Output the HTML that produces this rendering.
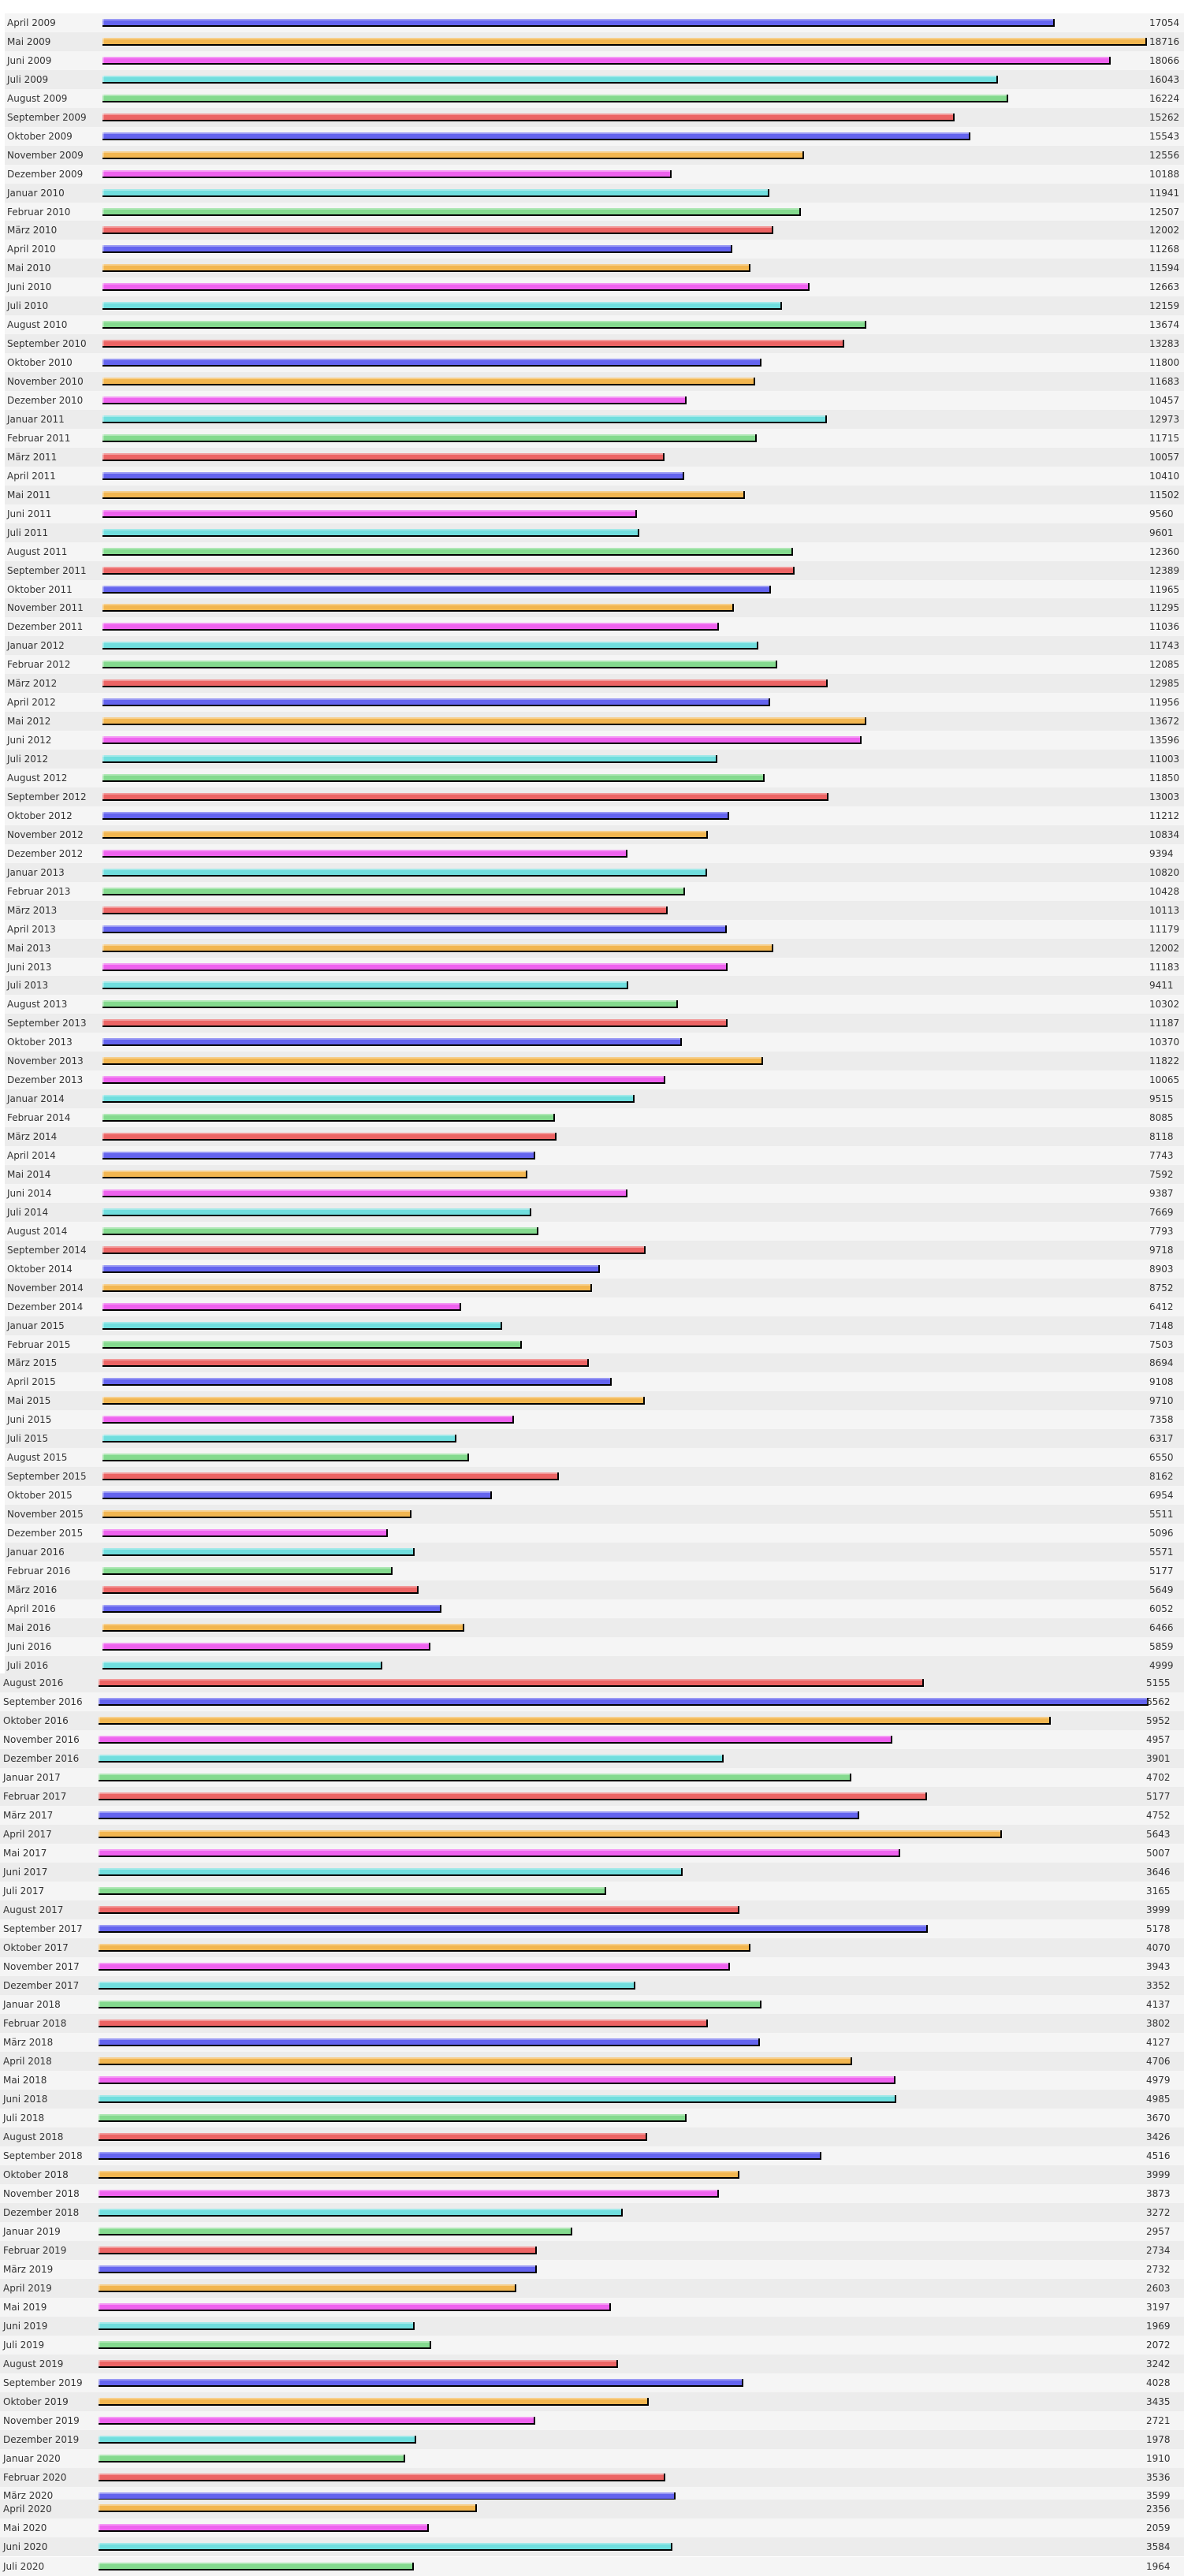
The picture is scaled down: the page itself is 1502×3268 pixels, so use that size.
<!DOCTYPE html>
<html><head><meta charset="utf-8"><style>
body{margin:0;width:1502px;height:3263px;background:#fff;position:relative;overflow:hidden;font-family:"DejaVu Sans","Liberation Sans",sans-serif;font-size:12px;color:#333}
.s{position:absolute;left:0;top:0;width:1502px}
.r{position:absolute;height:24px;line-height:24px;width:1496px;left:6px}
.s2 .r{left:0;width:1502px}
.s1 .r{top:calc(17px + var(--i)*23.95px)}
.s2 .r{top:calc(2123px + var(--i)*24px)}
.s1 .r:nth-child(odd){background:#f5f5f5}.s1 .r:nth-child(even){background:#ececec}
.s2 .r:nth-child(odd){background:#ececec}.s2 .r:nth-child(even){background:#f5f5f5}
.l{position:absolute;left:3px;top:0}
.s2 .l{left:4px}
.v{position:absolute;left:1452px;top:0}
.s2 .v{left:1454px}
.b{position:absolute;left:124px;top:7px;height:8px;width:calc(var(--v)*0.0707px);border-bottom:2px solid #000;border-right:2px solid #000;box-shadow:inset 0 2px 0 rgba(255,255,255,.35),inset 2px 0 0 rgba(255,255,255,.3)}
.s2 .b{left:125px;width:calc(var(--v)*0.2027px)}
.s1 .r:nth-child(6n+1) .b{background:#6464ee}.s1 .r:nth-child(6n+2) .b{background:#f2b650}.s1 .r:nth-child(6n+3) .b{background:#ee62ee}.s1 .r:nth-child(6n+4) .b{background:#70dede}.s1 .r:nth-child(6n+5) .b{background:#84da8e}.s1 .r:nth-child(6n) .b{background:#ec6464}
.s2 .r:nth-child(6n+1) .b{background:#ec6464}.s2 .r:nth-child(6n+2) .b{background:#6464ee}.s2 .r:nth-child(6n+3) .b{background:#f2b650}.s2 .r:nth-child(6n+4) .b{background:#ee62ee}.s2 .r:nth-child(6n+5) .b{background:#70dede}.s2 .r:nth-child(6n) .b{background:#84da8e}
</style></head><body>
<div class="s s1">
<div class="r" style="--i:0"><span class="l">April 2009</span><i class="b" style="--v:17054"></i><span class="v">17054</span></div>
<div class="r" style="--i:1"><span class="l">Mai 2009</span><i class="b" style="--v:18716"></i><span class="v">18716</span></div>
<div class="r" style="--i:2"><span class="l">Juni 2009</span><i class="b" style="--v:18066"></i><span class="v">18066</span></div>
<div class="r" style="--i:3"><span class="l">Juli 2009</span><i class="b" style="--v:16043"></i><span class="v">16043</span></div>
<div class="r" style="--i:4"><span class="l">August 2009</span><i class="b" style="--v:16224"></i><span class="v">16224</span></div>
<div class="r" style="--i:5"><span class="l">September 2009</span><i class="b" style="--v:15262"></i><span class="v">15262</span></div>
<div class="r" style="--i:6"><span class="l">Oktober 2009</span><i class="b" style="--v:15543"></i><span class="v">15543</span></div>
<div class="r" style="--i:7"><span class="l">November 2009</span><i class="b" style="--v:12556"></i><span class="v">12556</span></div>
<div class="r" style="--i:8"><span class="l">Dezember 2009</span><i class="b" style="--v:10188"></i><span class="v">10188</span></div>
<div class="r" style="--i:9"><span class="l">Januar 2010</span><i class="b" style="--v:11941"></i><span class="v">11941</span></div>
<div class="r" style="--i:10"><span class="l">Februar 2010</span><i class="b" style="--v:12507"></i><span class="v">12507</span></div>
<div class="r" style="--i:11"><span class="l">März 2010</span><i class="b" style="--v:12002"></i><span class="v">12002</span></div>
<div class="r" style="--i:12"><span class="l">April 2010</span><i class="b" style="--v:11268"></i><span class="v">11268</span></div>
<div class="r" style="--i:13"><span class="l">Mai 2010</span><i class="b" style="--v:11594"></i><span class="v">11594</span></div>
<div class="r" style="--i:14"><span class="l">Juni 2010</span><i class="b" style="--v:12663"></i><span class="v">12663</span></div>
<div class="r" style="--i:15"><span class="l">Juli 2010</span><i class="b" style="--v:12159"></i><span class="v">12159</span></div>
<div class="r" style="--i:16"><span class="l">August 2010</span><i class="b" style="--v:13674"></i><span class="v">13674</span></div>
<div class="r" style="--i:17"><span class="l">September 2010</span><i class="b" style="--v:13283"></i><span class="v">13283</span></div>
<div class="r" style="--i:18"><span class="l">Oktober 2010</span><i class="b" style="--v:11800"></i><span class="v">11800</span></div>
<div class="r" style="--i:19"><span class="l">November 2010</span><i class="b" style="--v:11683"></i><span class="v">11683</span></div>
<div class="r" style="--i:20"><span class="l">Dezember 2010</span><i class="b" style="--v:10457"></i><span class="v">10457</span></div>
<div class="r" style="--i:21"><span class="l">Januar 2011</span><i class="b" style="--v:12973"></i><span class="v">12973</span></div>
<div class="r" style="--i:22"><span class="l">Februar 2011</span><i class="b" style="--v:11715"></i><span class="v">11715</span></div>
<div class="r" style="--i:23"><span class="l">März 2011</span><i class="b" style="--v:10057"></i><span class="v">10057</span></div>
<div class="r" style="--i:24"><span class="l">April 2011</span><i class="b" style="--v:10410"></i><span class="v">10410</span></div>
<div class="r" style="--i:25"><span class="l">Mai 2011</span><i class="b" style="--v:11502"></i><span class="v">11502</span></div>
<div class="r" style="--i:26"><span class="l">Juni 2011</span><i class="b" style="--v:9560"></i><span class="v">9560</span></div>
<div class="r" style="--i:27"><span class="l">Juli 2011</span><i class="b" style="--v:9601"></i><span class="v">9601</span></div>
<div class="r" style="--i:28"><span class="l">August 2011</span><i class="b" style="--v:12360"></i><span class="v">12360</span></div>
<div class="r" style="--i:29"><span class="l">September 2011</span><i class="b" style="--v:12389"></i><span class="v">12389</span></div>
<div class="r" style="--i:30"><span class="l">Oktober 2011</span><i class="b" style="--v:11965"></i><span class="v">11965</span></div>
<div class="r" style="--i:31"><span class="l">November 2011</span><i class="b" style="--v:11295"></i><span class="v">11295</span></div>
<div class="r" style="--i:32"><span class="l">Dezember 2011</span><i class="b" style="--v:11036"></i><span class="v">11036</span></div>
<div class="r" style="--i:33"><span class="l">Januar 2012</span><i class="b" style="--v:11743"></i><span class="v">11743</span></div>
<div class="r" style="--i:34"><span class="l">Februar 2012</span><i class="b" style="--v:12085"></i><span class="v">12085</span></div>
<div class="r" style="--i:35"><span class="l">März 2012</span><i class="b" style="--v:12985"></i><span class="v">12985</span></div>
<div class="r" style="--i:36"><span class="l">April 2012</span><i class="b" style="--v:11956"></i><span class="v">11956</span></div>
<div class="r" style="--i:37"><span class="l">Mai 2012</span><i class="b" style="--v:13672"></i><span class="v">13672</span></div>
<div class="r" style="--i:38"><span class="l">Juni 2012</span><i class="b" style="--v:13596"></i><span class="v">13596</span></div>
<div class="r" style="--i:39"><span class="l">Juli 2012</span><i class="b" style="--v:11003"></i><span class="v">11003</span></div>
<div class="r" style="--i:40"><span class="l">August 2012</span><i class="b" style="--v:11850"></i><span class="v">11850</span></div>
<div class="r" style="--i:41"><span class="l">September 2012</span><i class="b" style="--v:13003"></i><span class="v">13003</span></div>
<div class="r" style="--i:42"><span class="l">Oktober 2012</span><i class="b" style="--v:11212"></i><span class="v">11212</span></div>
<div class="r" style="--i:43"><span class="l">November 2012</span><i class="b" style="--v:10834"></i><span class="v">10834</span></div>
<div class="r" style="--i:44"><span class="l">Dezember 2012</span><i class="b" style="--v:9394"></i><span class="v">9394</span></div>
<div class="r" style="--i:45"><span class="l">Januar 2013</span><i class="b" style="--v:10820"></i><span class="v">10820</span></div>
<div class="r" style="--i:46"><span class="l">Februar 2013</span><i class="b" style="--v:10428"></i><span class="v">10428</span></div>
<div class="r" style="--i:47"><span class="l">März 2013</span><i class="b" style="--v:10113"></i><span class="v">10113</span></div>
<div class="r" style="--i:48"><span class="l">April 2013</span><i class="b" style="--v:11179"></i><span class="v">11179</span></div>
<div class="r" style="--i:49"><span class="l">Mai 2013</span><i class="b" style="--v:12002"></i><span class="v">12002</span></div>
<div class="r" style="--i:50"><span class="l">Juni 2013</span><i class="b" style="--v:11183"></i><span class="v">11183</span></div>
<div class="r" style="--i:51"><span class="l">Juli 2013</span><i class="b" style="--v:9411"></i><span class="v">9411</span></div>
<div class="r" style="--i:52"><span class="l">August 2013</span><i class="b" style="--v:10302"></i><span class="v">10302</span></div>
<div class="r" style="--i:53"><span class="l">September 2013</span><i class="b" style="--v:11187"></i><span class="v">11187</span></div>
<div class="r" style="--i:54"><span class="l">Oktober 2013</span><i class="b" style="--v:10370"></i><span class="v">10370</span></div>
<div class="r" style="--i:55"><span class="l">November 2013</span><i class="b" style="--v:11822"></i><span class="v">11822</span></div>
<div class="r" style="--i:56"><span class="l">Dezember 2013</span><i class="b" style="--v:10065"></i><span class="v">10065</span></div>
<div class="r" style="--i:57"><span class="l">Januar 2014</span><i class="b" style="--v:9515"></i><span class="v">9515</span></div>
<div class="r" style="--i:58"><span class="l">Februar 2014</span><i class="b" style="--v:8085"></i><span class="v">8085</span></div>
<div class="r" style="--i:59"><span class="l">März 2014</span><i class="b" style="--v:8118"></i><span class="v">8118</span></div>
<div class="r" style="--i:60"><span class="l">April 2014</span><i class="b" style="--v:7743"></i><span class="v">7743</span></div>
<div class="r" style="--i:61"><span class="l">Mai 2014</span><i class="b" style="--v:7592"></i><span class="v">7592</span></div>
<div class="r" style="--i:62"><span class="l">Juni 2014</span><i class="b" style="--v:9387"></i><span class="v">9387</span></div>
<div class="r" style="--i:63"><span class="l">Juli 2014</span><i class="b" style="--v:7669"></i><span class="v">7669</span></div>
<div class="r" style="--i:64"><span class="l">August 2014</span><i class="b" style="--v:7793"></i><span class="v">7793</span></div>
<div class="r" style="--i:65"><span class="l">September 2014</span><i class="b" style="--v:9718"></i><span class="v">9718</span></div>
<div class="r" style="--i:66"><span class="l">Oktober 2014</span><i class="b" style="--v:8903"></i><span class="v">8903</span></div>
<div class="r" style="--i:67"><span class="l">November 2014</span><i class="b" style="--v:8752"></i><span class="v">8752</span></div>
<div class="r" style="--i:68"><span class="l">Dezember 2014</span><i class="b" style="--v:6412"></i><span class="v">6412</span></div>
<div class="r" style="--i:69"><span class="l">Januar 2015</span><i class="b" style="--v:7148"></i><span class="v">7148</span></div>
<div class="r" style="--i:70"><span class="l">Februar 2015</span><i class="b" style="--v:7503"></i><span class="v">7503</span></div>
<div class="r" style="--i:71"><span class="l">März 2015</span><i class="b" style="--v:8694"></i><span class="v">8694</span></div>
<div class="r" style="--i:72"><span class="l">April 2015</span><i class="b" style="--v:9108"></i><span class="v">9108</span></div>
<div class="r" style="--i:73"><span class="l">Mai 2015</span><i class="b" style="--v:9710"></i><span class="v">9710</span></div>
<div class="r" style="--i:74"><span class="l">Juni 2015</span><i class="b" style="--v:7358"></i><span class="v">7358</span></div>
<div class="r" style="--i:75"><span class="l">Juli 2015</span><i class="b" style="--v:6317"></i><span class="v">6317</span></div>
<div class="r" style="--i:76"><span class="l">August 2015</span><i class="b" style="--v:6550"></i><span class="v">6550</span></div>
<div class="r" style="--i:77"><span class="l">September 2015</span><i class="b" style="--v:8162"></i><span class="v">8162</span></div>
<div class="r" style="--i:78"><span class="l">Oktober 2015</span><i class="b" style="--v:6954"></i><span class="v">6954</span></div>
<div class="r" style="--i:79"><span class="l">November 2015</span><i class="b" style="--v:5511"></i><span class="v">5511</span></div>
<div class="r" style="--i:80"><span class="l">Dezember 2015</span><i class="b" style="--v:5096"></i><span class="v">5096</span></div>
<div class="r" style="--i:81"><span class="l">Januar 2016</span><i class="b" style="--v:5571"></i><span class="v">5571</span></div>
<div class="r" style="--i:82"><span class="l">Februar 2016</span><i class="b" style="--v:5177"></i><span class="v">5177</span></div>
<div class="r" style="--i:83"><span class="l">März 2016</span><i class="b" style="--v:5649"></i><span class="v">5649</span></div>
<div class="r" style="--i:84"><span class="l">April 2016</span><i class="b" style="--v:6052"></i><span class="v">6052</span></div>
<div class="r" style="--i:85"><span class="l">Mai 2016</span><i class="b" style="--v:6466"></i><span class="v">6466</span></div>
<div class="r" style="--i:86"><span class="l">Juni 2016</span><i class="b" style="--v:5859"></i><span class="v">5859</span></div>
<div class="r" style="--i:87"><span class="l">Juli 2016</span><i class="b" style="--v:4999"></i><span class="v">4999</span></div>
</div>
<div class="s s2">
<div class="r" style="--i:0"><span class="l">August 2016</span><i class="b" style="--v:5155"></i><span class="v">5155</span></div>
<div class="r" style="--i:1"><span class="l">September 2016</span><i class="b" style="--v:6562"></i><span class="v">6562</span></div>
<div class="r" style="--i:2"><span class="l">Oktober 2016</span><i class="b" style="--v:5952"></i><span class="v">5952</span></div>
<div class="r" style="--i:3"><span class="l">November 2016</span><i class="b" style="--v:4957"></i><span class="v">4957</span></div>
<div class="r" style="--i:4"><span class="l">Dezember 2016</span><i class="b" style="--v:3901"></i><span class="v">3901</span></div>
<div class="r" style="--i:5"><span class="l">Januar 2017</span><i class="b" style="--v:4702"></i><span class="v">4702</span></div>
<div class="r" style="--i:6"><span class="l">Februar 2017</span><i class="b" style="--v:5177"></i><span class="v">5177</span></div>
<div class="r" style="--i:7"><span class="l">März 2017</span><i class="b" style="--v:4752"></i><span class="v">4752</span></div>
<div class="r" style="--i:8"><span class="l">April 2017</span><i class="b" style="--v:5643"></i><span class="v">5643</span></div>
<div class="r" style="--i:9"><span class="l">Mai 2017</span><i class="b" style="--v:5007"></i><span class="v">5007</span></div>
<div class="r" style="--i:10"><span class="l">Juni 2017</span><i class="b" style="--v:3646"></i><span class="v">3646</span></div>
<div class="r" style="--i:11"><span class="l">Juli 2017</span><i class="b" style="--v:3165"></i><span class="v">3165</span></div>
<div class="r" style="--i:12"><span class="l">August 2017</span><i class="b" style="--v:3999"></i><span class="v">3999</span></div>
<div class="r" style="--i:13"><span class="l">September 2017</span><i class="b" style="--v:5178"></i><span class="v">5178</span></div>
<div class="r" style="--i:14"><span class="l">Oktober 2017</span><i class="b" style="--v:4070"></i><span class="v">4070</span></div>
<div class="r" style="--i:15"><span class="l">November 2017</span><i class="b" style="--v:3943"></i><span class="v">3943</span></div>
<div class="r" style="--i:16"><span class="l">Dezember 2017</span><i class="b" style="--v:3352"></i><span class="v">3352</span></div>
<div class="r" style="--i:17"><span class="l">Januar 2018</span><i class="b" style="--v:4137"></i><span class="v">4137</span></div>
<div class="r" style="--i:18"><span class="l">Februar 2018</span><i class="b" style="--v:3802"></i><span class="v">3802</span></div>
<div class="r" style="--i:19"><span class="l">März 2018</span><i class="b" style="--v:4127"></i><span class="v">4127</span></div>
<div class="r" style="--i:20"><span class="l">April 2018</span><i class="b" style="--v:4706"></i><span class="v">4706</span></div>
<div class="r" style="--i:21"><span class="l">Mai 2018</span><i class="b" style="--v:4979"></i><span class="v">4979</span></div>
<div class="r" style="--i:22"><span class="l">Juni 2018</span><i class="b" style="--v:4985"></i><span class="v">4985</span></div>
<div class="r" style="--i:23"><span class="l">Juli 2018</span><i class="b" style="--v:3670"></i><span class="v">3670</span></div>
<div class="r" style="--i:24"><span class="l">August 2018</span><i class="b" style="--v:3426"></i><span class="v">3426</span></div>
<div class="r" style="--i:25"><span class="l">September 2018</span><i class="b" style="--v:4516"></i><span class="v">4516</span></div>
<div class="r" style="--i:26"><span class="l">Oktober 2018</span><i class="b" style="--v:3999"></i><span class="v">3999</span></div>
<div class="r" style="--i:27"><span class="l">November 2018</span><i class="b" style="--v:3873"></i><span class="v">3873</span></div>
<div class="r" style="--i:28"><span class="l">Dezember 2018</span><i class="b" style="--v:3272"></i><span class="v">3272</span></div>
<div class="r" style="--i:29"><span class="l">Januar 2019</span><i class="b" style="--v:2957"></i><span class="v">2957</span></div>
<div class="r" style="--i:30"><span class="l">Februar 2019</span><i class="b" style="--v:2734"></i><span class="v">2734</span></div>
<div class="r" style="--i:31"><span class="l">März 2019</span><i class="b" style="--v:2732"></i><span class="v">2732</span></div>
<div class="r" style="--i:32"><span class="l">April 2019</span><i class="b" style="--v:2603"></i><span class="v">2603</span></div>
<div class="r" style="--i:33"><span class="l">Mai 2019</span><i class="b" style="--v:3197"></i><span class="v">3197</span></div>
<div class="r" style="--i:34"><span class="l">Juni 2019</span><i class="b" style="--v:1969"></i><span class="v">1969</span></div>
<div class="r" style="--i:35"><span class="l">Juli 2019</span><i class="b" style="--v:2072"></i><span class="v">2072</span></div>
<div class="r" style="--i:36"><span class="l">August 2019</span><i class="b" style="--v:3242"></i><span class="v">3242</span></div>
<div class="r" style="--i:37"><span class="l">September 2019</span><i class="b" style="--v:4028"></i><span class="v">4028</span></div>
<div class="r" style="--i:38"><span class="l">Oktober 2019</span><i class="b" style="--v:3435"></i><span class="v">3435</span></div>
<div class="r" style="--i:39"><span class="l">November 2019</span><i class="b" style="--v:2721"></i><span class="v">2721</span></div>
<div class="r" style="--i:40"><span class="l">Dezember 2019</span><i class="b" style="--v:1978"></i><span class="v">1978</span></div>
<div class="r" style="--i:41"><span class="l">Januar 2020</span><i class="b" style="--v:1910"></i><span class="v">1910</span></div>
<div class="r" style="--i:42"><span class="l">Februar 2020</span><i class="b" style="--v:3536"></i><span class="v">3536</span></div>
<div class="r" style="--i:43;height:16px;line-height:22px"><span class="l">März 2020</span><i class="b" style="--v:3599"></i><span class="v">3599</span></div>
<div class="r" style="top:3171px"><span class="l">April 2020</span><i class="b" style="--v:2356;top:6px"></i><span class="v">2356</span></div>
<div class="r" style="top:3195px"><span class="l">Mai 2020</span><i class="b" style="--v:2059"></i><span class="v">2059</span></div>
<div class="r" style="top:3219px"><span class="l">Juni 2020</span><i class="b" style="--v:3584"></i><span class="v">3584</span></div>
<div class="r" style="top:3244px"><span class="l">Juli 2020</span><i class="b" style="--v:1964"></i><span class="v">1964</span></div>
</div>
</body></html>
